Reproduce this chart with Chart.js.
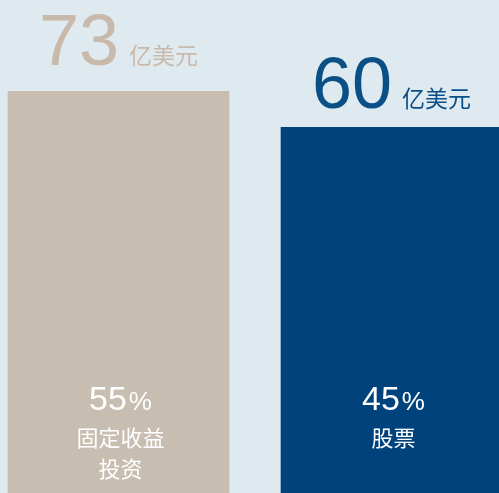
<!DOCTYPE html>
<html>
<head>
<meta charset="utf-8">
<script src="https://cdn.jsdelivr.net/npm/chart.js@4"></script>
<style>
  html, body { margin: 0; padding: 0; background: #dfe9f0; }
  #wrap { width: 499px; height: 493px; position: relative; }
</style>
</head>
<body>
<div id="wrap"><canvas id="c" width="499" height="493"></canvas></div>
<script>
const categories = ["固定收益\n投资", "股票"];
const amounts = [73, 60];            // 亿美元
const shares = [55, 45];             // %
const unitLabel = "亿美元";
const barColors = ["#c7bdb1", "#00437c"];
const amountColors = ["#c8b9aa", "#0a4f86"];
const axisMin = -72, axisMax = 106;

const labelPlugin = {
  id: 'labels',
  afterDatasetsDraw(chart) {
    const ctx = chart.ctx;
    const meta = chart.getDatasetMeta(0);
    const offsets = [26, 19];
    meta.data.forEach((bar, i) => {
      const cx = bar.x;
      ctx.save();
      ctx.textBaseline = 'alphabetic';
      ctx.textAlign = 'left';
      const numFont = '72px "Liberation Sans", Arial, sans-serif';
      const unitFont = '23px "Noto Sans CJK SC", sans-serif';
      ctx.font = numFont;
      const numStr = String(amounts[i]);
      const nw = ctx.measureText(numStr).width;
      ctx.font = unitFont;
      const uw = ctx.measureText(unitLabel).width;
      const gap = 10;
      const total = nw + gap + uw;
      let x0 = cx - total / 2;
      const by = bar.y - offsets[i];
      ctx.fillStyle = amountColors[i];
      ctx.font = numFont;
      ctx.fillText(numStr, x0, by);
      ctx.font = unitFont;
      ctx.fillText(unitLabel, x0 + nw + gap, by - 1);
      // inside labels
      ctx.fillStyle = '#ffffff';
      const pFont = '34px "Liberation Sans", Arial, sans-serif';
      const pctFont = '26px "Liberation Sans", Arial, sans-serif';
      ctx.font = pFont;
      const ps = String(shares[i]);
      const pw = ctx.measureText(ps).width;
      ctx.font = pctFont;
      const cw = ctx.measureText('%').width;
      const pt = pw + 2 + cw;
      let px = cx + 2 - pt / 2;
      const pBase = 410;
      ctx.font = pFont;
      ctx.fillText(ps, px, pBase);
      ctx.font = pctFont;
      ctx.fillText('%', px + pw + 2, pBase);
      ctx.textAlign = 'center';
      ctx.font = '22px "Noto Sans CJK SC", sans-serif';
      const lines = categories[i].split('\n');
      lines.forEach((ln, k) => {
        ctx.fillText(ln, cx + 2, 446 + k * 31);
      });
      ctx.restore();
    });
  }
};

new Chart(document.getElementById('c'), {
  type: 'bar',
  data: {
    datasets: [{
      data: amounts.map((v, i) => ({ x: i, y: v })),
      backgroundColor: barColors,
      borderWidth: 0,
      barThickness: 221,
      base: axisMin
    }]
  },
  options: {
    responsive: false,
    animation: false,
    devicePixelRatio: 1,
    layout: { padding: 0 },
    plugins: { legend: { display: false }, tooltip: { enabled: false } },
    scales: {
      x: { type: 'linear', display: false, offset: false, min: -0.43407, max: 1.39377 },
      y: { display: false, min: axisMin, max: axisMax }
    }
  },
  plugins: [labelPlugin]
});
</script>
</body>
</html>
